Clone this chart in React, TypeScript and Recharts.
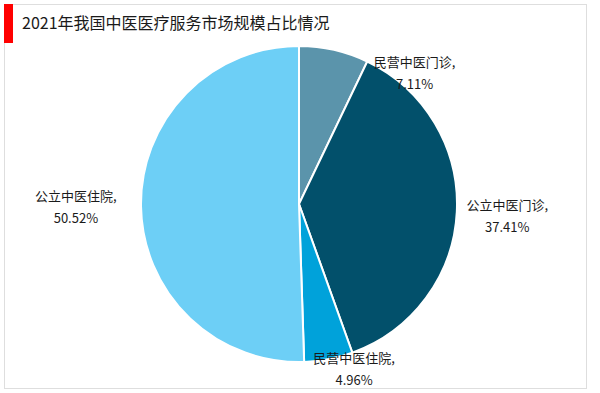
import React from 'react';
import { PieChart, Pie, Cell } from 'recharts';

const categories = ['民营中医门诊', '公立中医门诊', '民营中医住院', '公立中医住院'];
const shares = [7.11, 37.41, 4.96, 50.52];

const COLORS = ['#5b94ab', '#02506b', '#00a2da', '#6dcff6'];
// label placement: radius factor and angle nudge (deg) relative to slice mid angle
const LABEL_POS = [
  { k: 1.106, nudge: -28.6 },
  { k: 1.32, nudge: -0.4 },
  { k: 1.1, nudge: 7.7 },
  { k: 1.412, nudge: -0.24 },
];

const data = categories.map((name, i) => ({ name, value: shares[i] }));

const RAD = Math.PI / 180;

const renderLabel = (props: any) => {
  const { cx, cy, midAngle, outerRadius, index, name, value } = props;
  const pos = LABEL_POS[index];
  const a = (midAngle + pos.nudge) * RAD;
  const r = outerRadius * pos.k;
  const x = cx + r * Math.cos(a);
  const y = cy - r * Math.sin(a);
  return (
    <text
      x={x}
      y={y}
      textAnchor="middle"
      fill="#1a1a1a"
      fontSize={13}
      fontFamily="'Noto Sans CJK SC', sans-serif"
    >
      <tspan x={x} dy={-6}>{name},</tspan>
      <tspan x={x} dy={22}>{value.toFixed(2)}%</tspan>
    </text>
  );
};

export default function App() {
  return (
    <div
      style={{
        position: 'absolute',
        left: 0,
        top: 0,
        width: 600,
        height: 393,
        background: '#fff',
        fontFamily: "'Noto Sans CJK SC', sans-serif",
      }}
    >
      <div
        style={{
          position: 'absolute',
          left: 4,
          top: 4,
          width: 583,
          height: 385,
          border: '1px solid #dedede',
          boxSizing: 'border-box',
        }}
      />
      <div style={{ position: 'absolute', left: 4, top: 4, width: 9, height: 39, background: '#ff0000' }} />
      <div
        style={{
          position: 'absolute',
          left: 22,
          top: 10,
          fontSize: 16,
          color: '#1a1a1a',
          lineHeight: '24px',
          whiteSpace: 'nowrap',
        }}
      >
        2021年我国中医医疗服务市场规模占比情况
      </div>
      <div style={{ position: 'absolute', left: 0, top: 0 }}>
        <PieChart width={600} height={393} margin={{ top: 0, right: 0, bottom: 0, left: 0 }}>
          <Pie
            data={data}
            dataKey="value"
            nameKey="name"
            cx={299}
            cy={204}
            outerRadius={158}
            startAngle={90}
            endAngle={-270}
            stroke="#ffffff"
            strokeWidth={2}
            label={renderLabel}
            labelLine={false}
            isAnimationActive={false}
          >
            {data.map((d, i) => (
              <Cell key={d.name} fill={COLORS[i]} />
            ))}
          </Pie>
        </PieChart>
      </div>
    </div>
  );
}
